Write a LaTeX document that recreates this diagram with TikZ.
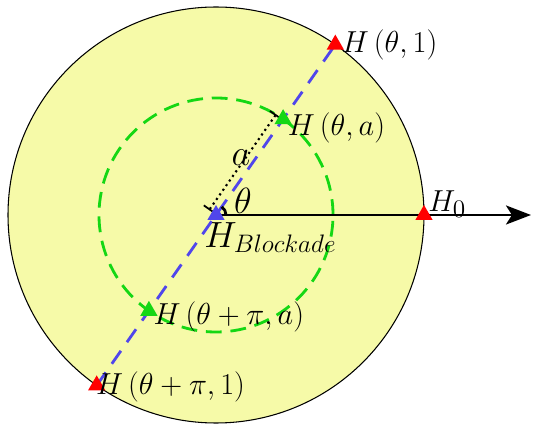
\documentclass[tikz,border=0pt]{standalone}
\usepackage{amsmath}
\usetikzlibrary{shapes.geometric, arrows.meta, positioning, calc}

\definecolor{diskfill}{RGB}{246,250,168}
\definecolor{ringgreen}{RGB}{20,215,20}
\definecolor{lineblue}{RGB}{80,70,235}

\begin{document}
\begin{tikzpicture}[
    marker/.style={regular polygon, regular polygon sides=3, inner sep=0pt, minimum size=0.4cm},
    lbl/.style={inner sep=0pt, font=\fontsize{16}{19}\selectfont}
]
    \useasboundingbox (-4.32,-4.22) rectangle (6.48,4.30);

    % Disc and circles
    \coordinate (C) at (0,0);
    \coordinate (ptop) at (55:4.16);
    \coordinate (pbot) at (235:4.16);
    \coordinate (pina) at (55:2.34);
    \coordinate (pinb) at (235:2.34);
    \coordinate (pzero) at (4.16,0);
    \coordinate (tip) at (6.3,0);
    \fill[diskfill] (C) circle (4.16);
    \draw[line width=0.6pt] (C) circle (4.16);
    \draw[ringgreen, line width=1.6pt, dash pattern=on 9pt off 5pt] (C) circle (2.34);

    % Axis through the points
    \draw[lineblue, line width=1.6pt, dash pattern=on 9pt off 6pt] (pbot) -- (ptop);
    \draw[-{Stealth[length=0.5cm, width=0.38cm, inset=0.12cm]}, line width=1.6pt] (C) -- (tip);

    % Angle
    \draw[line width=1.6pt] (0.2,0) arc (0:55:0.2);
    \node[lbl, font=\fontsize{21}{24}\selectfont] (theta) at (0.54,0.28) {$\theta$};

    % Radius a
    \draw[dotted, line width=1.2pt, {Bar[width=8pt, line width=1pt]}-{Bar[width=8pt, line width=1pt]}]
        ($(C)+(145:0.17)$) -- ($(pina)+(145:0.17)$);
    \node[lbl, font=\huge] (alabel) at (0.5,1.15) {$a$};

    % Points
    \node[marker, fill=red] (top) at (ptop) {};
    \node[marker, fill=red] (bot) at (pbot) {};
    \node[marker, fill=ringgreen] (ina) at (pina) {};
    \node[marker, fill=ringgreen] (inb) at (pinb) {};
    \node[marker, fill=red] (hzero) at (pzero) {};
    \node[marker, fill=lineblue] (ctr) at (C) {};

    % Labels
    \node[lbl, right=0pt of top] (ltop) {$H\left(\theta,1\right)$};
    \node[lbl, right=-1pt of ina, yshift=-0.17cm] (lina) {$H\left(\theta,a\right)$};
    \node[lbl, right=-1pt of inb, yshift=-0.12cm] (linb) {$H\left(\theta+\pi,a\right)$};
    \node[lbl, right=-4pt of bot, yshift=-0.04cm] (lbot) {$H\left(\theta+\pi,1\right)$};
    \node[lbl, font=\fontsize{19}{22}\selectfont, anchor=south west] (lzero) at ($(hzero.north east)+(0.0,-0.14)$) {$H_0$};
    \node[lbl, font=\fontsize{20}{24}\selectfont, anchor=north west] (lblock) at (-0.24,-0.14) {$H_{Blockade}$};
\end{tikzpicture}
\end{document}
